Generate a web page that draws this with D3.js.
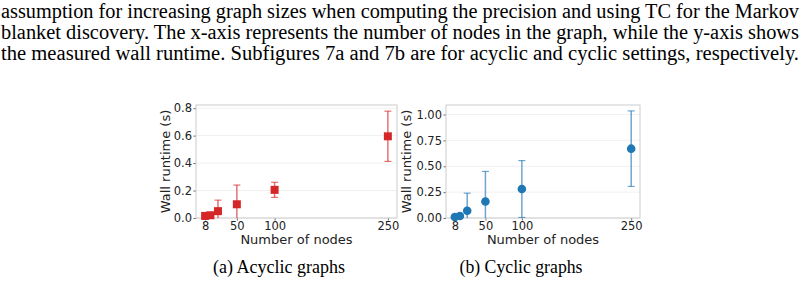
<!DOCTYPE html>
<html>
<head>
<meta charset="utf-8">
<script src="https://cdn.jsdelivr.net/npm/d3@7"></script>
<style>
  html, body { margin: 0; padding: 0; background: #fff; }
  svg { display: block; }
</style>
</head>
<body>
<div id="chart"></div>
<script>
// data
const nodes = [8, 15, 25, 50, 100, 250];
const acyclicMean = [0.015, 0.02, 0.05, 0.10, 0.205, 0.595];
const acyclicErr = [0.005, 0.01, 0.08, 0.14, 0.055, 0.183];
const cyclicMean = [0.01, 0.02, 0.07, 0.16, 0.28, 0.67];
const cyclicErr = [0.01, 0.02, 0.17, 0.29, 0.275, 0.365];
const xTicks = [8, 50, 100, 250];
const acyclicTicks = [0, 0.2, 0.4, 0.6, 0.8];
const cyclicTicks = [0, 0.25, 0.5, 0.75, 1.0];

const bodyLines = [
  'assumption for increasing graph sizes when computing the precision and using TC for the Markov',
  'blanket discovery. The x-axis represents the number of nodes in the graph, while the y-axis shows',
  'the measured wall runtime. Subfigures 7a and 7b are for acyclic and cyclic settings, respectively.'
];

const width = 805, height = 282;
const svg = d3.select('#chart').append('svg')
  .attr('width', width)
  .attr('height', height);

// paragraph text, squeezed to the full column width like the scanned page
const serif = '"Liberation Serif", "Times New Roman", serif';
bodyLines.forEach((line, i) => {
  svg.append('text')
    .attr('x', 1)
    .attr('y', 17.5 + i * 21.3)
    .attr('font-family', serif)
    .attr('font-size', 20)
    .attr('fill', '#000')
    .attr('textLength', 798)
    .attr('lengthAdjust', 'spacingAndGlyphs')
    .text(line);
});

function drawPanel(opt) {
  const x = d3.scaleLinear().domain([-4.1, 262.1]).range([opt.left, opt.right]);
  const y = d3.scaleLinear().domain(opt.yDomain).range([opt.bottom, opt.top]);
  const g = svg.append('g');

  const clipId = 'clip-' + opt.id;
  g.append('clipPath').attr('id', clipId)
    .append('rect')
    .attr('x', opt.left).attr('y', opt.top)
    .attr('width', opt.right - opt.left).attr('height', opt.bottom - opt.top);

  // grid
  g.selectAll('.grid').data(opt.yTicks).join('line')
    .attr('x1', opt.left).attr('x2', opt.right)
    .attr('y1', d => y(d)).attr('y2', d => y(d))
    .attr('stroke', '#ececec').attr('stroke-width', 0.8);

  // axes
  const yAxis = g.append('g')
    .attr('transform', `translate(${opt.left},0)`)
    .call(d3.axisLeft(y).tickValues(opt.yTicks).tickFormat(d3.format(opt.fmt)).tickSize(2.5).tickPadding(1.5));
  const xAxis = g.append('g')
    .attr('transform', `translate(0,${opt.bottom})`)
    .call(d3.axisBottom(x).tickValues(xTicks).tickSize(2.5).tickPadding(1));
  [xAxis, yAxis].forEach(a => {
    a.select('.domain').remove();
    a.selectAll('line').attr('stroke', '#444').attr('stroke-width', 0.8);
    a.selectAll('text')
      .attr('font-family', '"DejaVu Sans", sans-serif')
      .attr('font-size', 11.5)
      .attr('fill', '#222');
  });

  // frame
  g.append('rect')
    .attr('x', opt.left).attr('y', opt.top)
    .attr('width', opt.right - opt.left).attr('height', opt.bottom - opt.top)
    .attr('fill', 'none').attr('stroke', '#cccccc').attr('stroke-width', 1);

  // error bars
  const rows = nodes.map((n, i) => ({ n, m: opt.mean[i], e: opt.err[i] }));
  const eb = g.append('g').attr('clip-path', `url(#${clipId})`);
  eb.selectAll('.bar').data(rows).join('line')
    .attr('x1', d => x(d.n)).attr('x2', d => x(d.n))
    .attr('y1', d => y(d.m - d.e)).attr('y2', d => y(d.m + d.e))
    .attr('stroke', opt.color).attr('stroke-opacity', 0.65).attr('stroke-width', 1.5);
  const caps = rows.flatMap(d => [d.m - d.e, d.m + d.e].map(v => ({ n: d.n, v })));
  eb.selectAll('.cap').data(caps).join('line')
    .attr('x1', d => x(d.n) - 3.5).attr('x2', d => x(d.n) + 3.5)
    .attr('y1', d => y(d.v)).attr('y2', d => y(d.v))
    .attr('stroke', opt.color).attr('stroke-opacity', 0.65).attr('stroke-width', 1.2);

  // markers
  if (opt.shape === 'square') {
    g.selectAll('.pt').data(rows).join('rect')
      .attr('x', d => x(d.n) - 4).attr('y', d => y(d.m) - 4)
      .attr('width', 8).attr('height', 8)
      .attr('fill', opt.color);
  } else {
    g.selectAll('.pt').data(rows).join('circle')
      .attr('cx', d => x(d.n)).attr('cy', d => y(d.m))
      .attr('r', 4.3)
      .attr('fill', opt.color);
  }

  // axis labels
  g.append('text')
    .attr('x', (opt.left + opt.right) / 2)
    .attr('y', opt.bottom + 26)
    .attr('text-anchor', 'middle')
    .attr('font-family', '"DejaVu Sans", sans-serif')
    .attr('font-size', 13)
    .attr('fill', '#222')
    .text('Number of nodes');
  g.append('text')
    .attr('transform', `translate(${opt.ylabelX},${(opt.top + opt.bottom) / 2}) rotate(-90)`)
    .attr('text-anchor', 'middle')
    .attr('font-family', '"DejaVu Sans", sans-serif')
    .attr('font-size', 13)
    .attr('fill', '#222')
    .text('Wall runtime (s)');

  // caption
  svg.append('text')
    .attr('x', opt.captionX)
    .attr('y', 272.5)
    .attr('text-anchor', 'middle')
    .attr('font-family', serif)
    .attr('font-size', 18)
    .attr('fill', '#000')
    .attr('textLength', opt.captionW)
    .attr('lengthAdjust', 'spacingAndGlyphs')
    .text(opt.caption);
}

drawPanel({
  id: 'a', left: 196, right: 397, top: 105, bottom: 218,
  yDomain: [0, 0.823], yTicks: acyclicTicks, fmt: '.1f',
  mean: acyclicMean, err: acyclicErr, color: '#d62728', shape: 'square',
  ylabelX: 170, caption: '(a) Acyclic graphs', captionX: 279, captionW: 132
});
drawPanel({
  id: 'b', left: 446, right: 640, top: 105, bottom: 218,
  yDomain: [0, 1.092], yTicks: cyclicTicks, fmt: '.2f',
  mean: cyclicMean, err: cyclicErr, color: '#1f77b4', shape: 'circle',
  ylabelX: 411, caption: '(b) Cyclic graphs', captionX: 521, captionW: 123
});
</script>
</body>
</html>
